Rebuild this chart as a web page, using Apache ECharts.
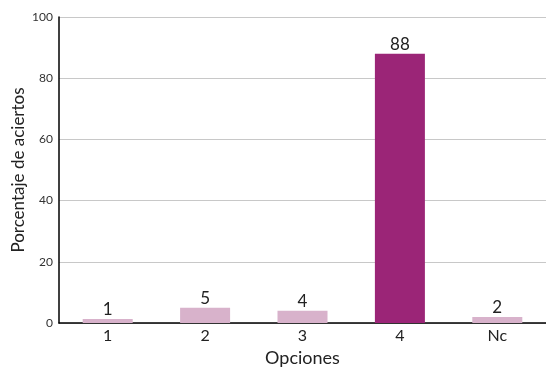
<!DOCTYPE html>
<html><head><meta charset="utf-8">
<script src="https://cdn.jsdelivr.net/npm/echarts@6/dist/echarts.min.js"></script>
<style>html,body{margin:0;padding:0;background:#fff}#c{width:546px;height:367px}</style>
</head><body><div id="c"></div>
<script>
const categories = ['1', '2', '3', '4', 'Nc'];
const values = [1.3, 5, 4, 88, 2];
const labels = ['1', '5', '4', '88', '2'];
const yTicks = [0, 20, 40, 60, 80, 100];
const highlightIndex = 3;

const font = 'Lato';
const chart = echarts.init(document.getElementById('c'));
chart.setOption({
  animation: false,
  textStyle: { fontFamily: font },
  grid: { left: 59, right: 0, top: 17, bottom: 44, containLabel: false, outerBoundsMode: 'none' },
  xAxis: {
    type: 'category', data: categories,
    name: 'Opciones', nameLocation: 'middle', nameGap: 19,
    nameTextStyle: { fontSize: 18, color: '#222', fontFamily: font },
    axisLine: { lineStyle: { color: '#000', width: 1.5 } },
    axisTick: { show: false },
    axisLabel: { fontSize: 16, color: '#222', margin: 5, fontFamily: font }
  },
  yAxis: {
    type: 'value', min: 0, max: 100, interval: 20,
    name: 'Porcentaje de aciertos', nameLocation: 'middle', nameGap: 32, nameMoveOverlap: false,
    nameTextStyle: { fontSize: 17, color: '#222', fontFamily: font },
    axisLine: { show: true, lineStyle: { color: '#000', width: 1.5 } },
    axisTick: { show: false },
    axisLabel: { fontSize: 12, color: '#333', margin: 6, fontFamily: font,
      formatter: v => yTicks.includes(v) ? String(v) : '' },
    splitLine: { lineStyle: { color: '#c8c8c8', width: 1 } }
  },
  series: [{
    type: 'bar', barWidth: 50,
    data: values.map((v, i) => ({
      value: v,
      itemStyle: { color: i === highlightIndex ? '#9b2577' : '#d8b2cb' },
      label: { formatter: labels[i] }
    })),
    label: { show: true, position: 'top', distance: 1, fontSize: 17, color: '#222', fontFamily: font }
  }]
});
</script></body></html>
